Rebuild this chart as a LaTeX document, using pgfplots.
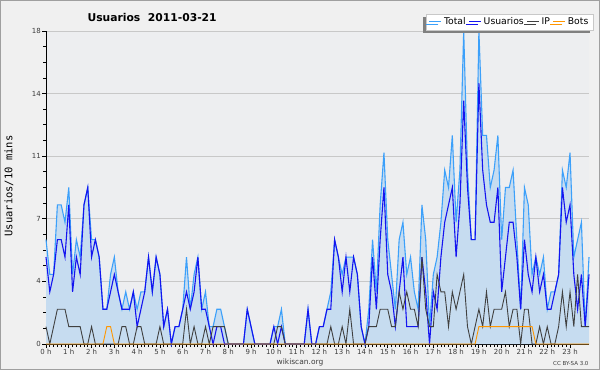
\documentclass[border=0pt]{standalone}
\usepackage{pgfplots}
\pgfplotsset{compat=1.18}
\usepackage{pgfplotstable}
\usepackage{fontspec}
\setmainfont{DejaVu Sans}
\newfontfamily\monofont{DejaVu Sans Mono}
\usetikzlibrary{shadows}
\definecolor{bgout}{RGB}{240,240,240}
\definecolor{bgplot}{RGB}{237,238,240}
\definecolor{fillblue}{RGB}{198,220,240}
\definecolor{totalc}{RGB}{60,160,250}
\definecolor{usuc}{RGB}{20,20,240}
\definecolor{ipc}{RGB}{64,64,64}
\definecolor{botc}{RGB}{255,150,0}
\definecolor{gridc}{RGB}{200,200,200}
\definecolor{ticklab}{RGB}{60,60,60}

\pgfplotstableread{
i T U IP B
0 6 5 1 0
1 4 3 0 0
2 4 4 1 0
3 8 6 2 0
4 8 6 2 0
5 7 5 2 0
6 9 8 1 0
7 4 3 1 0
8 6 5 1 0
9 5 4 1 0
10 8 8 0 0
11 9 9 0 0
12 6 5 1 0
13 6 6 0 0
14 5 5 0 0
15 2 2 0 0
16 2 2 0 1
17 4 3 0 1
18 5 4 0 0
19 3 3 0 0
20 2 2 1 0
21 3 2 1 0
22 2 2 0 0
23 3 3 0 0
24 2 1 1 0
25 3 2 1 0
26 3 3 0 0
27 5 5 0 0
28 3 3 0 0
29 5 5 0 0
30 4 4 1 0
31 1 1 0 0
32 2 2 0 0
33 0 0 0 0
34 1 1 0 0
35 1 1 0 0
36 2 2 0 0
37 5 3 2 0
38 2 2 0 0
39 4 3 1 0
40 5 5 0 0
41 2 2 0 0
42 3 2 1 0
43 1 1 0 0
44 1 0 1 0
45 2 1 1 0
46 2 1 1 0
47 1 0 1 0
48 0 0 0 0
49 0 0 0 0
50 0 0 0 0
51 0 0 0 0
52 0 0 0 0
53 2 2 0 0
54 1 1 0 0
55 0 0 0 0
56 0 0 0 0
57 0 0 0 0
58 0 0 0 0
59 0 0 0 0
60 1 1 0 0
61 1 0 1 0
62 2 1 1 0
63 0 0 0 0
64 0 0 0 0
65 0 0 0 0
66 0 0 0 0
67 0 0 0 0
68 0 0 0 0
69 2 2 0 0
70 0 0 0 0
71 0 0 0 0
72 1 1 0 0
73 1 1 0 0
74 2 2 0 0
75 3 2 1 0
76 6 6 0 0
77 5 5 0 0
78 4 3 1 0
79 5 5 0 0
80 5 3 2 0
81 5 5 0 0
82 4 4 0 0
83 1 1 0 0
84 0 0 0 0
85 2 1 1 0
86 6 5 1 0
87 3 2 1 0
88 8 6 2 0
89 11 9 2 0
90 6 4 2 0
91 4 3 1 0
92 2 1 1 0
93 6 3 3 0
94 7 5 2 0
95 4 1 3 0
96 5 1 2 0
97 3 1 2 0
98 2 1 1 0
99 8 5 5 0
100 6 3 2 0
101 1 0 1 0
102 4 3 1 0
103 5 2 4 0
104 7 5 3 0
105 10 7 3 0
106 9 8 1 0
107 12 9 3 0
108 7 5 2 0
109 10 8 3 0
110 18 14 4 0
111 10 9 1 0
112 6 6 0 0
113 6 6 1 0
114 18 15 2 1
115 12 10 1 1
116 12 8 3 1
117 9 7 1 1
118 10 7 2 1
119 12 9 2 1
120 6 3 2 1
121 9 5 3 1
122 9 7 1 1
123 10 7 2 1
124 6 5 2 1
125 2 2 0 1
126 9 6 2 1
127 8 4 2 1
128 4 3 0 1
129 5 5 0 0
130 4 3 1 0
131 5 4 0 0
132 2 2 1 0
133 3 2 0 0
134 3 3 0 0
135 4 4 1 0
136 10 9 3 0
137 9 7 1 0
138 11 8 3 0
139 5 4 1 0
140 6 2 4 0
141 7 4 1 0
142 1 1 1 0
143 5 4 1 0
}\datatable

\begin{document}
\begin{tikzpicture}[x=1bp,y=1bp]
\fill[bgout] (0,0) rectangle (600,370);
\draw[gray!75, line width=1bp] (0.5,0.5) rectangle (599.5,369.5);
\begin{axis}[
  at={(46bp,26bp)}, anchor=south west,
  scale only axis, width=543bp, height=313bp,
  xmin=0, xmax=143, ymin=0, ymax=18,
  axis background/.style={fill=bgplot},
  axis x line*=bottom, axis y line*=left,
  axis line style={black, line width=0.9bp},
  tick align=outside,
  major tick length=4bp, minor tick length=3bp,
  every tick/.style={black, line width=0.8bp},
  xtick={0,6,...,138},
  xticklabels={0 h,1 h,2 h,3 h,4 h,5 h,6 h,7 h,8 h,9 h,10 h,11 h,12 h,13 h,14 h,15 h,16 h,17 h,18 h,19 h,20 h,21 h,22 h,23 h},
  minor x tick num=5,
  ytick={0,3.6,7.2,10.8,14.4,18},
  yticklabels={0,4,7,11,14,18},
  minor y tick num=3,
  ymajorgrids, major grid style={draw=gridc, line width=0.8bp},
  xticklabel style={font=\fontsize{7}{8}\selectfont, text=ticklab, inner sep=1bp},
  yticklabel style={font=\fontsize{7}{8}\selectfont, text=ticklab, inner sep=1bp},
  clip=false,
  legend style={at={(1.0074,1.003)}, anchor=south east, legend columns=4,
    draw=gridc, fill=white, font=\fontsize{9.3}{11}\selectfont,
    inner xsep=2.5bp, inner ysep=1.8bp,
    general shadow={fill=gray, shadow xshift=-3bp, shadow yshift=-3bp},
    /tikz/every even column/.append style={column sep=1bp}},
  legend image code/.code={\draw[#1] (0bp,0bp) -- (12bp,0bp);},
]
\addplot[fill=fillblue, draw=none, forget plot] table[x=i,y=T]{\datatable} \closedcycle;
\addplot[totalc, line width=1.1bp] table[x=i,y=T]{\datatable};
\addlegendentry{Total}
\addplot[usuc, line width=1.1bp] table[x=i,y=U]{\datatable};
\addlegendentry{Usuarios}
\addplot[ipc, line width=0.9bp] table[x=i,y=IP]{\datatable};
\addlegendentry{IP}
\addplot[botc, line width=0.9bp] table[x=i,y=B]{\datatable};
\addlegendentry{Bots}
\end{axis}
\node[anchor=west, font=\bfseries\fontsize{10.8}{12}\selectfont] at (84,353) {Usuarios\ \ 2011-03-21};
\node[rotate=90, font=\monofont\fontsize{10.5}{12}\selectfont] at (9,184) {Usuarios/10 mins};
\node[font=\fontsize{7.5}{9}\selectfont, text=ticklab] at (300,8) {wikiscan.org};
\node[anchor=east, font=\fontsize{5.5}{6}\selectfont, text=ticklab] at (592,7) {CC BY-SA 3.0};
\end{tikzpicture}
\end{document}
